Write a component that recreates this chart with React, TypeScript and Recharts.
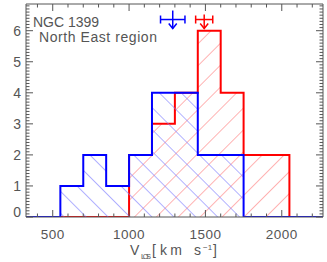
import React from "react";
import {
  ComposedChart,
  Area,
  Scatter,
  ErrorBar,
  XAxis,
  YAxis,
  Customized,
} from "recharts";

// histogram: bin edges (km/s) with the counts held until the next edge
const binEdges = [325, 550, 700, 850, 1000, 1150, 1300, 1450, 1600, 1750, 1900, 2050, 2270];
const blueCounts = [0, 1, 2, 1, 2, 4, 4, 2, 2, 0, 0, 0, 0];
const redCounts = [0, 0, 0, 0, 2, 3, 4, 6, 4, 2, 2, 0, 0];

// mean velocities with their errors (arrows at the top)
const blueMean = [{ v: 1286, y: 6.36, err: 80 }];
const redMean = [{ v: 1492, y: 6.36, err: 56 }];

const xMajor = [500, 1000, 1500, 2000];
const xMinor = [400, 500, 600, 700, 800, 900, 1000, 1100, 1200, 1300, 1400, 1500, 1600, 1700, 1800, 1900, 2000, 2100, 2200];
const yMajor = [0, 1, 2, 3, 4, 5, 6];
const yMinor = Array.from({ length: 69 }, (_, i) => i / 10);

const data = binEdges.map((v, i) => ({ v, blue: blueCounts[i], red: redCounts[i] }));

const AXIS = "#555";
const FONT = "'Liberation Sans', Arial, sans-serif";

const BottomTick = ({ x, y, payload }: any) => {
  const major = xMajor.includes(payload.value);
  return (
    <g>
      <line x1={x} x2={x} y1={y} y2={y - (major ? 7 : 3.5)} stroke={AXIS} />
      {major && (
        <text x={x} y={y + 22} textAnchor="middle" fill={AXIS} fontSize={13.5} fontFamily={FONT} letterSpacing={0.5}>
          {payload.value}
        </text>
      )}
    </g>
  );
};

const TopTick = ({ x, y, payload }: any) => {
  const major = xMajor.includes(payload.value);
  return <line x1={x} x2={x} y1={y} y2={y + (major ? 7 : 3.5)} stroke={AXIS} />;
};

const LeftTick = ({ x, y, payload }: any) => {
  const major = yMajor.includes(payload.value);
  return (
    <g>
      <line x1={x} x2={x + (major ? 7 : 3.5)} y1={y} y2={y} stroke={AXIS} />
      {major && (
        <text
          x={x - 5}
          y={y + (payload.value === 0 ? 0 : 5)}
          textAnchor="end"
          fill={AXIS}
          fontSize={14}
          fontFamily={FONT}
        >
          {payload.value}
        </text>
      )}
    </g>
  );
};

const RightTick = ({ x, y, payload }: any) => {
  const major = yMajor.includes(payload.value);
  return <line x1={x} x2={x - (major ? 7 : 3.5)} y1={y} y2={y} stroke={AXIS} />;
};

const arrow = (color: string, top: number) => (props: any) => {
  const { cx, cy } = props;
  return (
    <g stroke={color} strokeWidth={1.5} fill="none">
      <line x1={cx} x2={cx} y1={cy - top} y2={cy + 9} />
      <polyline points={`${cx - 4},${cy + 4} ${cx},${cy + 9} ${cx + 4},${cy + 4}`} />
    </g>
  );
};

const Labels = () => (
  <g fill={AXIS} fontFamily={FONT}>
    <text x={33} y={27} fontSize={14} textLength={66} lengthAdjust="spacing">NGC 1399</text>
    <text x={39} y={42} fontSize={14} textLength={118} lengthAdjust="spacing">North East region</text>
    <text x={130} y={255} fontSize={14}>V</text>
    <text x={141} y={259} fontSize={7.5} textLength={10} lengthAdjust="spacing">LOS</text>
    <text x={152} y={255} fontSize={14}>[</text>
    <text x={160} y={255} fontSize={14} textLength={22} lengthAdjust="spacing">km</text>
    <text x={194} y={255} fontSize={14}>s</text>
    <text x={203} y={250} fontSize={8}>−1</text>
    <text x={213} y={255} fontSize={14}>]</text>
  </g>
);

export default function App() {
  return (
    <div style={{ position: "absolute", left: 0, top: 0, background: "#fff" }}>
      <ComposedChart width={327} height={262} data={data} margin={{ top: 0, right: 0, bottom: 0, left: 0 }}>
        <defs>
          <pattern id="hatchBlue" patternUnits="userSpaceOnUse" width={15.5} height={15.5} patternTransform="rotate(-45)">
            <line x1={0} y1={0} x2={0} y2={15.5} stroke="#7f7fff" strokeWidth={1.2} />
          </pattern>
          <pattern id="hatchRed" patternUnits="userSpaceOnUse" width={15.5} height={15.5} patternTransform="rotate(45)">
            <line x1={0} y1={0} x2={0} y2={15.5} stroke="#ff8080" strokeWidth={1.2} />
          </pattern>
        </defs>
        <XAxis
          dataKey="v"
          type="number"
          domain={[325, 2270]}
          ticks={xMinor}
          interval={0}
          tickSize={0}
          tickMargin={0}
          height={45}
          stroke={AXIS}
          tick={<BottomTick />}
          allowDataOverflow
        />
        <XAxis
          xAxisId="top"
          dataKey="v"
          type="number"
          orientation="top"
          domain={[325, 2270]}
          ticks={xMinor}
          interval={0}
          tickSize={0}
          tickMargin={0}
          height={4}
          stroke={AXIS}
          tick={<TopTick />}
          allowDataOverflow
        />
        <YAxis
          type="number"
          domain={[0, 6.86]}
          ticks={yMinor}
          interval={0}
          tickSize={0}
          tickMargin={0}
          width={26}
          stroke={AXIS}
          tick={<LeftTick />}
          allowDataOverflow
        />
        <YAxis
          yAxisId="right"
          orientation="right"
          type="number"
          domain={[0, 6.86]}
          ticks={yMinor}
          interval={0}
          tickSize={0}
          tickMargin={0}
          width={4}
          stroke={AXIS}
          tick={<RightTick />}
          allowDataOverflow
        />
        <Area
          type="stepAfter"
          dataKey="red"
          stroke="#ff0000"
          strokeWidth={2}
          fill="url(#hatchRed)"
          fillOpacity={1}
          dot={false}
          activeDot={false}
          isAnimationActive={false}
        />
        <Area
          type="stepAfter"
          dataKey="blue"
          stroke="#0000ff"
          strokeWidth={2}
          fill="url(#hatchBlue)"
          fillOpacity={1}
          dot={false}
          activeDot={false}
          isAnimationActive={false}
        />
        <Scatter data={blueMean} dataKey="y" shape={arrow("#0000ff", 9)} isAnimationActive={false}>
          <ErrorBar dataKey="err" direction="x" width={4} stroke="#0000ff" strokeWidth={1.5} isAnimationActive={false} />
        </Scatter>
        <Scatter data={redMean} dataKey="y" shape={arrow("#ff0000", 5)} isAnimationActive={false}>
          <ErrorBar dataKey="err" direction="x" width={4} stroke="#ff0000" strokeWidth={1.5} isAnimationActive={false} />
        </Scatter>
        <Customized component={<Labels />} />
      </ComposedChart>
    </div>
  );
}
